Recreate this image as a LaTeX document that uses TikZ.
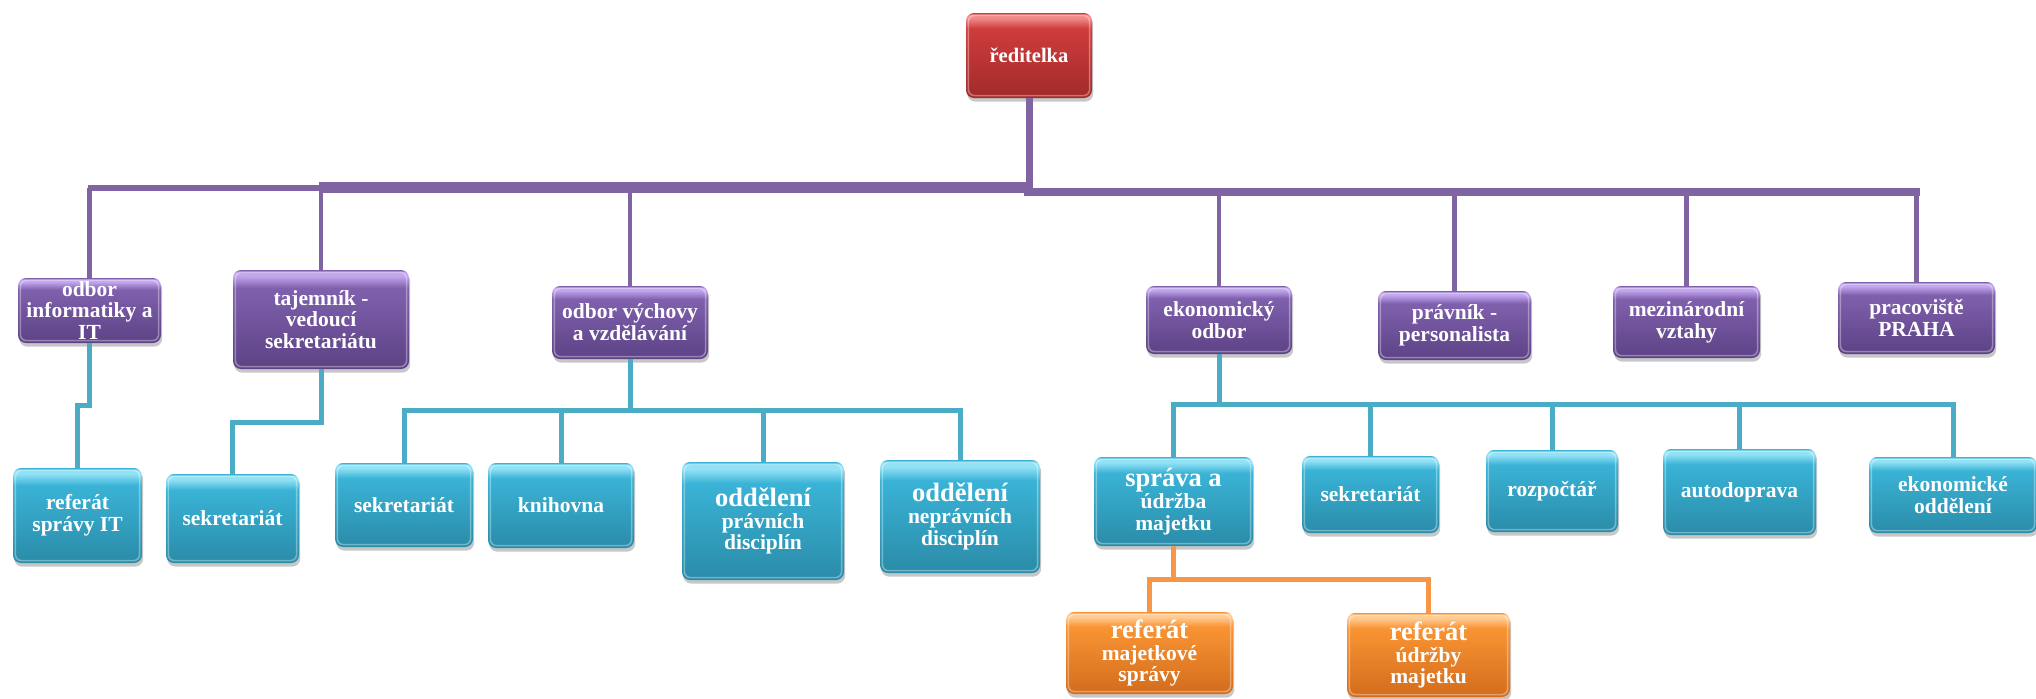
\documentclass[tikz,border=0pt]{standalone}
\usepackage{fontspec}
\setmainfont{Liberation Serif}
\usetikzlibrary{shadows}
\definecolor{pD}{HTML}{5C4285}
\definecolor{pM}{HTML}{7F60AD}
\definecolor{pL}{HTML}{C2A6EE}
\definecolor{tD}{HTML}{2A8BA8}
\definecolor{tM}{HTML}{3AB3D6}
\definecolor{tL}{HTML}{92E2F6}
\definecolor{oD}{HTML}{D26C1C}
\definecolor{oM}{HTML}{F99434}
\definecolor{oL}{HTML}{FFCB92}
\definecolor{rD}{HTML}{A22A2A}
\definecolor{rM}{HTML}{CF3C3C}
\definecolor{rL}{HTML}{F28A8A}
\definecolor{pLine}{HTML}{8064A2}
\definecolor{tLine}{HTML}{4BACC6}
\definecolor{oLine}{HTML}{F79646}
\pgfdeclareverticalshading{pglass}{100bp}{color(0bp)=(pD); color(25bp)=(pD); color(66bp)=(pM); color(72bp)=(pL); color(73.8bp)=(pL); color(75bp)=(pM); color(100bp)=(pM)}
\pgfdeclareverticalshading{tglass}{100bp}{color(0bp)=(tD); color(25bp)=(tD); color(66bp)=(tM); color(72bp)=(tL); color(73.8bp)=(tL); color(75bp)=(tM); color(100bp)=(tM)}
\pgfdeclareverticalshading{oglass}{100bp}{color(0bp)=(oD); color(25bp)=(oD); color(66bp)=(oM); color(72bp)=(oL); color(73.8bp)=(oL); color(75bp)=(oM); color(100bp)=(oM)}
\pgfdeclareverticalshading{rglass}{100bp}{color(0bp)=(rD); color(25bp)=(rD); color(66bp)=(rM); color(72bp)=(rL); color(73.8bp)=(rL); color(75bp)=(rM); color(100bp)=(rM)}
\newcommand{\lgtxt}{\fontsize{13.25pt}{14pt}\selectfont}
\tikzset{
  glassbox/.style={rectangle, rounded corners=4pt, text=white, align=center, inner sep=0pt,
    font=\fontsize{10.75pt}{10.9pt}\selectfont\bfseries,
    drop shadow={shadow xshift=0.6pt, shadow yshift=-1.8pt, opacity=0.22, fill=black},
    path picture={\draw[white, opacity=0.35, line width=0.8pt, rounded corners=3pt]
      ([shift={(1.2pt,-1.2pt)}]path picture bounding box.north west) rectangle
      ([shift={(-1.2pt,1.2pt)}]path picture bounding box.south east);}},
  pbox/.style={glassbox, shading=pglass},
  tbox/.style={glassbox, shading=tglass},
  obox/.style={glassbox, shading=oglass},
  rbox/.style={glassbox, shading=rglass},
  pline/.style={draw=pLine, line width=2.25pt},
  tline/.style={draw=tLine, line width=2.5pt},
  oline/.style={draw=oLine, line width=2.5pt}
}
\begin{document}
\begin{tikzpicture}[x=0.5pt, y=-0.5pt]
\useasboundingbox (0,0) rectangle (2036,698);
% bus (purple)
\coordinate (busL) at (88,188);
\coordinate (busM) at (319,187);
\coordinate (busC) at (1028,190);
\coordinate (busR) at (1920,191.5);
\draw[pLine, line width=3pt] (busL) -- (322,188);
\draw[pLine, line width=5.5pt] (busM) -- (1031,187);
\draw[pLine, line width=4pt] (1024,191.5) -- (busR);
% nodes
\node[rbox, minimum width=63pt, minimum height=42.5pt, font=\fontsize{10.3pt}{11pt}\selectfont\bfseries] (red) at (1029,55.5) {ředitelka};
\draw[pLine, line width=3.5pt] (red.south) -- (red.south |- 0,195);

\node[pbox, minimum width=71.5pt, minimum height=32.5pt] (p1) at (89.5,310.5) {odbor\\informatiky a\\IT};
\node[pbox, minimum width=88pt, minimum height=49.5pt] (p2) at (321,319.5) {tajemník -\\vedoucí\\sekretariátu};
\node[pbox, minimum width=78pt, minimum height=36.5pt] (p3) at (630,322.5) {odbor výchovy\\a vzdělávání};
\node[pbox, minimum width=73pt, minimum height=34pt] (p4) at (1219,320) {ekonomický\\odbor};
\node[pbox, minimum width=76.5pt, minimum height=34.5pt] (p5) at (1454.5,325.5) {právník -\\personalista};
\node[pbox, minimum width=73.5pt, minimum height=36pt] (p6) at (1686.5,322) {mezinárodní\\vztahy};
\node[pbox, minimum width=78.5pt, minimum height=36pt] (p7) at (1916.5,318) {pracoviště\\PRAHA};

\foreach \n/\y in {p1/188, p2/187, p3/187, p4/191.5, p5/191.5, p6/191.5, p7/191.5}
  \draw[pline] (\n.north) -- (\n.north |- 0,\y);

\node[tbox, minimum width=64.5pt, minimum height=47.5pt] (t1) at (77.5,515.5) {referát\\správy IT};
\node[tbox, minimum width=66.5pt, minimum height=44.5pt] (t2) at (232.5,518.5) {sekretariát};
\node[tbox, minimum width=69pt, minimum height=42pt] (t3) at (404,505) {sekretariát};
\node[tbox, minimum width=73pt, minimum height=42.5pt] (t4) at (561,505.5) {knihovna};
\node[tbox, minimum width=81pt, minimum height=59pt] (t5) at (763,521) {{\lgtxt oddělení}\\právních\\disciplín};
\node[tbox, minimum width=80pt, minimum height=56.5pt] (t6) at (960,516.5) {{\lgtxt oddělení}\\neprávních\\disciplín};
\node[tbox, minimum width=79.5pt, minimum height=44.5pt] (t7) at (1173.5,501.5) {{\lgtxt správa a}\\údržba\\majetku};
\node[tbox, minimum width=68.5pt, minimum height=38.5pt] (t8) at (1370.5,494.5) {sekretariát};
\node[tbox, minimum width=66pt, minimum height=41pt] (t9) at (1552,491) {rozpočtář};
\node[tbox, minimum width=76.5pt, minimum height=43pt] (t10) at (1739.5,492) {autodoprava};
\node[tbox, minimum width=84pt, minimum height=38pt] (t11) at (1953,495) {ekonomické\\oddělení};

\node[obox, minimum width=83.5pt, minimum height=41pt] (o1) at (1149.5,653) {{\lgtxt referát}\\majetkové\\správy};
\node[obox, minimum width=81.5pt, minimum height=42pt] (o2) at (1428.5,655) {{\lgtxt referát}\\údržby\\majetku};

% teal connectors
\draw[tline] (p1.south) -- ++(0,62) -| (t1.north);
\draw[tline] (p2.south) -- ++(0,53) -| (t2.north);
\foreach \c in {t3,t4,t5,t6}
  \draw[tline] (p3.south) -- ++(0,51) -| (\c.north);
\foreach \c in {t7,t8,t9,t10,t11}
  \draw[tline] (p4.south) -- ++(0,50) -| (\c.north);
% orange connectors
\foreach \c in {o1,o2}
  \draw[oline] (t7.south) -- ++(0,33) -| (\c.north);
\end{tikzpicture}
\end{document}
